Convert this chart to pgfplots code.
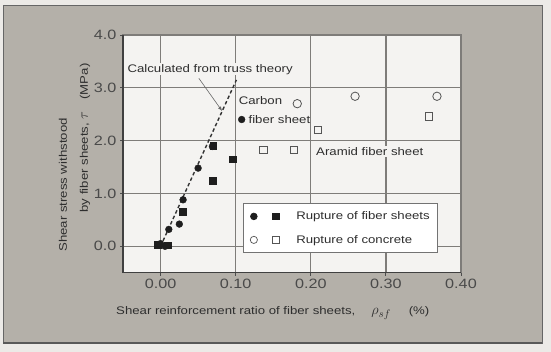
\documentclass[border=0pt]{standalone}
\usepackage{fontspec}
\setmainfont{Liberation Sans}[FakeStretch=1.2]
\usepackage{pgfplots}
\pgfplotsset{compat=1.18}
\definecolor{panel}{HTML}{B4B0A9}
\definecolor{outerc}{HTML}{ECEAE7}
\definecolor{plotbg}{HTML}{F4F3F1}
\definecolor{gridc}{HTML}{7E7C79}
\definecolor{txt}{HTML}{2E2E2E}
\definecolor{tickc}{HTML}{4A4A4A}
\definecolor{openc}{HTML}{555555}
\definecolor{fillc}{HTML}{1E1E1E}
\begin{document}
\begin{tikzpicture}[x=1pt,y=1pt]
\useasboundingbox (0,0) rectangle (551,352);
\fill[outerc] (0,0) rectangle (551,352);
\fill[panel] (3,9) rectangle (542,347);
\draw[color=gray!80!black, line width=0.8pt] (3,9) rectangle (542,347);
\draw[color=black!65, line width=1.5pt] (3,9) -- (542,9);
\begin{axis}[
  at={(123pt,79.3pt)}, anchor=south west, scale only axis,
  width=338pt, height=237.7pt,
  xmin=-0.05, xmax=0.40, ymin=-0.5, ymax=4.0,
  xtick={0,0.1,0.2,0.3,0.4}, ytick={0,1,2,3,4},
  axis on top=false,
  axis line style={-, line width=1.1pt, color=gridc},
  xtick pos=bottom, ytick pos=left,
  axis background/.style={fill=plotbg},
  grid=major, grid style={gridc, line width=1.3pt},
  tick align=outside, major tick length=3pt,
  tick style={black!70, line width=0.8pt},
  /pgf/number format/assume math mode=true,
  xticklabel style={font=\fontsize{13.5}{13.5}\selectfont, text=tickc,
    /pgf/number format/fixed, /pgf/number format/fixed zerofill,
    /pgf/number format/precision=2},
  yticklabel style={font=\fontsize{13.5}{13.5}\selectfont, text=tickc,
    /pgf/number format/fixed, /pgf/number format/fixed zerofill,
    /pgf/number format/precision=1},
  clip=false,
  legend style={at={(0.3565,0.292)}, anchor=north west, draw=black!55,
    line width=0.8pt, fill=white, font=\fontsize{11}{13}\selectfont,
    text=txt, row sep=10pt, inner xsep=6pt, inner ysep=6pt},
  legend cell align=left,
]
% dark left and bottom axis lines
\draw[black!75, line width=1.4pt] (rel axis cs:0,1) -- (rel axis cs:0,0) -- (rel axis cs:1,0);
% legend entries
\addlegendimage{legend image code/.code={
  \fill[fillc] (9pt,0) circle (3.3pt);
  \fill[fillc] (27.5pt,-3.3pt) rectangle (34.1pt,3.3pt);
  \path (46pt,0);}}
\addlegendentry{Rupture of fiber sheets\hspace{18pt}}
\addlegendimage{legend image code/.code={
  \draw[openc, fill=white, line width=0.7pt] (9pt,0) circle (3.6pt);
  \draw[openc, fill=white, line width=0.7pt] (27.5pt,-3.3pt) rectangle (34.1pt,3.3pt);
  \path (49pt,0);}}
\addlegendentry{Rupture of concrete}

% truss theory line
\addplot[forget plot, black!80, line width=1.4pt, dash pattern=on 3.5pt off 2.5pt]
  coordinates {(0,0) (0.101,3.15)};

% rupture of fiber sheets: circles
\addplot[forget plot, only marks, mark=*, mark size=3.4pt,
  mark options={fill=fillc, draw=fillc}] coordinates {
  (0.000,0.05) (0.006,0.00) (0.011,0.32) (0.025,0.42) (0.030,0.88)
  (0.050,1.48) (0.069,1.89) (0.108,2.40)};
% rupture of fiber sheets: squares
\addplot[forget plot, only marks, mark=square*, mark size=3.4pt,
  mark options={fill=fillc, draw=fillc}] coordinates {
  (-0.004,0.03) (0.010,0.02) (0.030,0.65) (0.069,1.24) (0.096,1.65) (0.070,1.90)};
% rupture of concrete: circles
\addplot[forget plot, only marks, mark=o, mark size=4.2pt,
  mark options={draw=openc, fill=white, line width=0.8pt}] coordinates {
  (0.182,2.70) (0.259,2.84) (0.368,2.84)};
% rupture of concrete: squares
\addplot[forget plot, only marks, mark=square, mark size=3.6pt,
  mark options={draw=openc, fill=white, line width=0.8pt}] coordinates {
  (0.137,1.83) (0.178,1.83) (0.210,2.20) (0.357,2.46)};

% annotations
\node[font=\fontsize{11}{13}\selectfont, text=txt, fill=plotbg, inner sep=1pt]
  at (axis cs:0.066,3.35) {Calculated from truss theory};
\draw[black!60, line width=0.6pt, -latex] (axis cs:0.051,3.18) -- (axis cs:0.082,2.56);
\node[font=\fontsize{11}{13}\selectfont, text=txt, anchor=west, inner sep=0pt]
  at (axis cs:0.104,2.75) {Carbon};
\node[font=\fontsize{11}{13}\selectfont, text=txt, anchor=west, inner sep=0pt]
  at (axis cs:0.117,2.40) {fiber sheet};
\node[font=\fontsize{11}{13}\selectfont, text=txt, anchor=west, inner sep=1.5pt, fill=plotbg]
  at (axis cs:0.205,1.79) {Aramid fiber sheet};
\end{axis}
% axis labels
\node[rotate=90, font=\fontsize{11}{13}\selectfont, text=txt] at (63,167)
  {Shear stress withstood};
\node[rotate=90, font=\fontsize{11}{13}\selectfont, text=txt] at (85,214)
  {by fiber sheets, {\fontsize{14}{14}\selectfont$\tau$}\hspace{12pt}(MPa)};
\node[anchor=west, font=\fontsize{11}{13}\selectfont, text=txt, inner sep=0pt] at (116,39)
  {Shear reinforcement ratio of fiber sheets,\hspace{16pt}{\fontsize{15}{15}\selectfont$\rho_{sf}$}\hspace{18pt}(\%)};
\end{tikzpicture}
\end{document}
